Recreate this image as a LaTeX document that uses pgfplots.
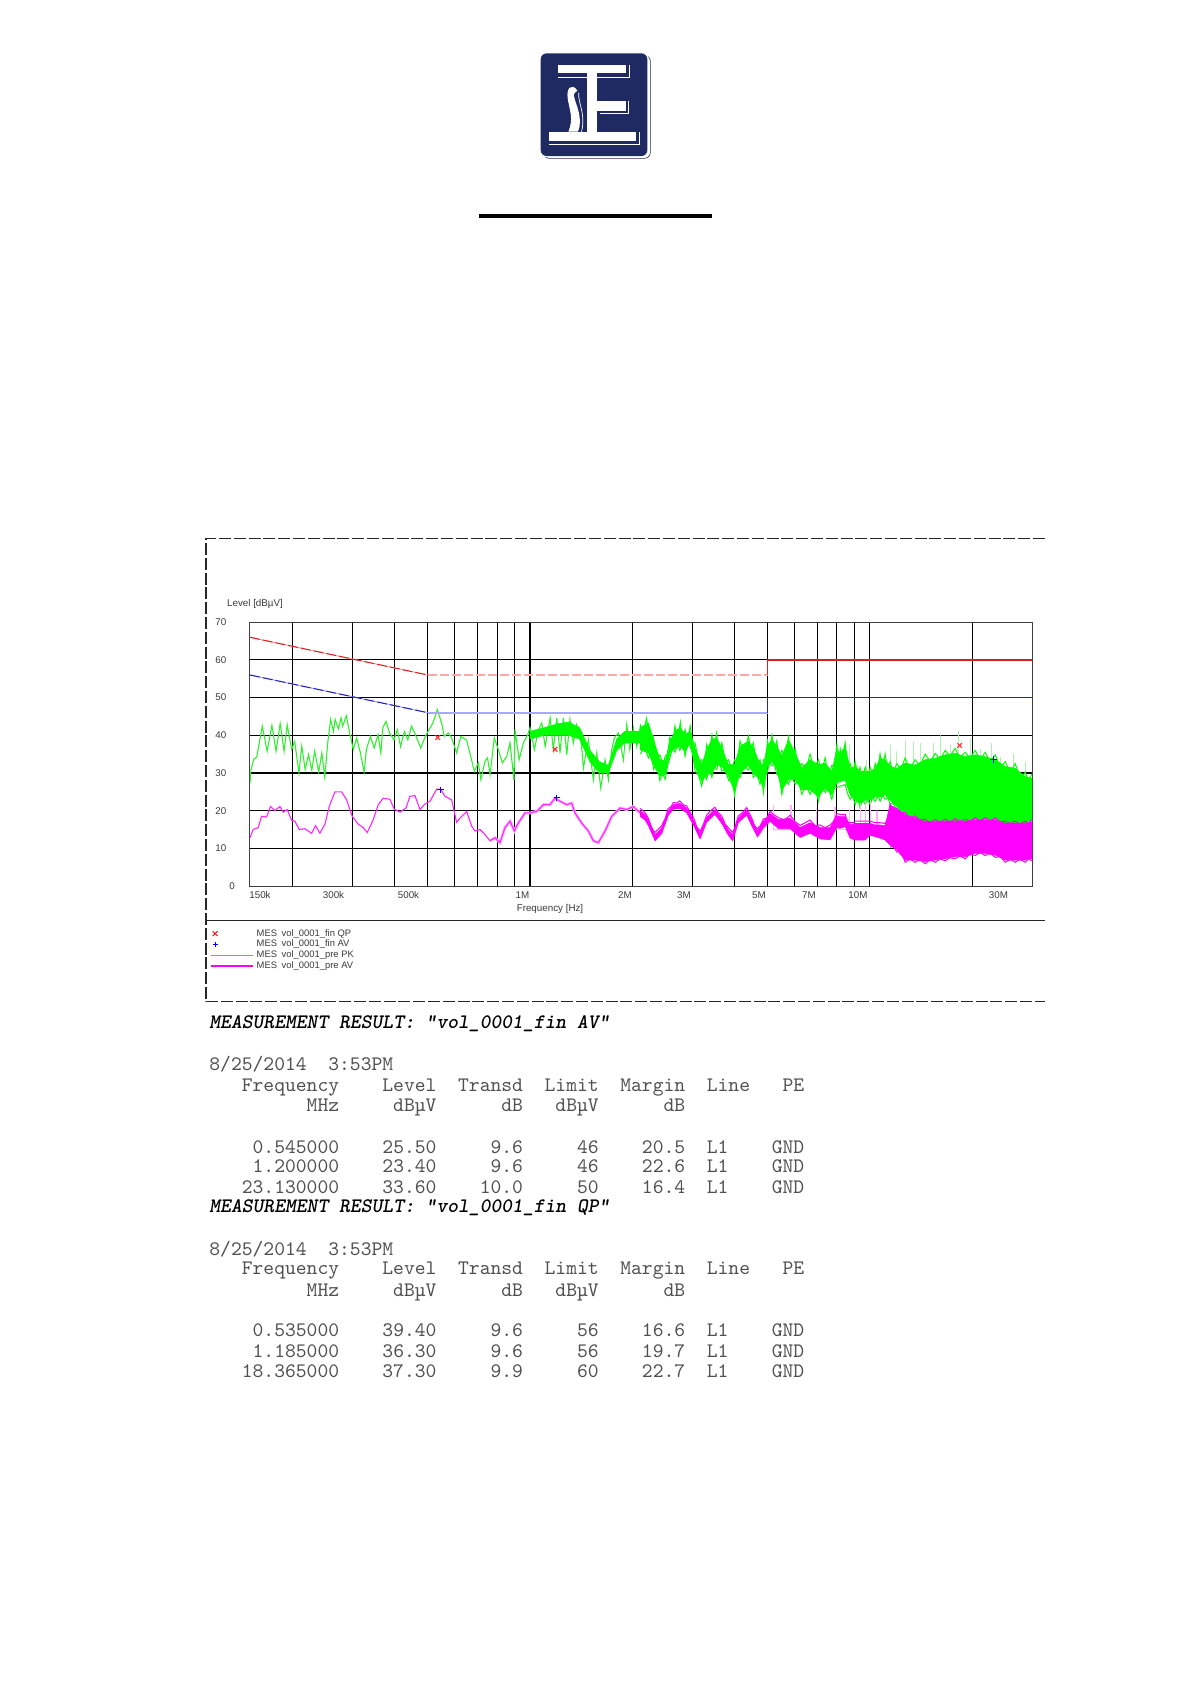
\documentclass[border=0pt]{standalone}
\usepackage{fontspec}
\setmainfont{Liberation Sans}
\usepackage{pgfplots}
\pgfplotsset{compat=1.18}
\definecolor{navy}{HTML}{1F2A63}
\definecolor{limred}{HTML}{D82020}
\definecolor{palered}{HTML}{FFA8A8}
\definecolor{limblue}{HTML}{2424B4}
\definecolor{paleblue}{HTML}{A8A8FF}
\definecolor{palegreen}{HTML}{B0F0B0}
\definecolor{palemag}{HTML}{FFB0FF}
\definecolor{tracegreen}{HTML}{30F030}
\definecolor{mag}{HTML}{FF00FF}
\definecolor{txt}{HTML}{3A3A3A}
\definecolor{tbl}{HTML}{505050}
\newcommand{\tl}[2]{\node[anchor=base west,inner sep=0pt,text=tbl,font=\ttfamily\fontsize{10.3pt}{12pt}\selectfont] at (209,#1) {#2};}
\newcommand{\hd}[2]{\node[anchor=base west,inner sep=0pt,text=black,font=\ttfamily\bfseries\itshape\fontsize{10.3pt}{12pt}\selectfont] at (209,#1) {#2};}
\newcommand{\xl}[2]{\node[inner sep=0pt,text=txt,font=\fontsize{4.9pt}{6pt}\selectfont] at (#1,895) {#2};}
\begin{document}
\begin{tikzpicture}
\path[use as bounding box] (0pt,0pt) rectangle (595.5pt,-841.5pt);
\begin{axis}[
  at={(125pt,-443pt)}, anchor=south west,
  scale only axis, width=391pt, height=131.9pt,
  xmode=log, xmin=0.15, xmax=30, ymin=0, ymax=70,
  xtick={0.2,0.3,0.4,0.5,0.6,0.7,0.8,0.9,1,2,3,4,5,6,7,8,9,10,20},
  xticklabels={}, minor tick num=0,
  ytick={10,20,30,40,50,60,70},
  yticklabels={10,20,30,40,50,60,70},
  yticklabel style={font=\fontsize{4.9pt}{6pt}\selectfont, text=txt, inner sep=0pt, xshift=-11.6pt},
  major tick length=0pt,
  grid=major, major grid style={black, line width=0.55pt},
  axis line style={draw=black!75, line width=0.5pt},
  legend cell align=left,
  legend style={at={(-0.051,-0.158)}, anchor=north west, draw=none, fill=none, inner sep=0pt,
    font=\fontsize{4.7pt}{6pt}\selectfont, text=txt, row sep=-0.1pt,
    nodes={inner sep=0pt, text height=4pt, text depth=1.5pt}},
  legend image code/.code={\draw[#1] (0pt,0pt) -- (21pt,0pt);},
]
\addlegendimage{only marks, mark=x, mark size=1.4pt, red, legend image code/.code={\draw[red, line width=0.4pt, xshift=2pt] (-1.2pt,-1.2pt)--(1.2pt,1.2pt) (-1.2pt,1.2pt)--(1.2pt,-1.2pt);}}
\addlegendentry{\hspace{1.5pt}MES\hspace{1pt} vol\_0001\_fin QP}
\addlegendimage{blue, legend image code/.code={\draw[blue, line width=0.4pt, xshift=2pt] (-1.3pt,0pt)--(1.3pt,0pt) (0pt,1.3pt)--(0pt,-1.3pt);}}
\addlegendentry{\hspace{1.5pt}MES\hspace{1pt} vol\_0001\_fin AV}
\addlegendimage{green, line width=0.6pt}
\addlegendentry{\hspace{1.5pt}MES\hspace{1pt} vol\_0001\_pre PK}
\addlegendimage{mag, line width=0.6pt}
\addlegendentry{\hspace{1.5pt}MES\hspace{1pt} vol\_0001\_pre AV}

% pale peaks above the dense part of the PK trace
\addplot[forget plot, palegreen, line width=0.6pt] coordinates {
(8.46,28.5)(8.46,37.9)(8.46,28.5)(8.69,28.5)(8.69,37.5)(8.69,28.5)(9.16,28.5)(9.16,32.1)(9.16,28.5)
(9.79,28.5)(9.79,33.5)(9.79,28.5)(10.68,28.5)(10.68,35.2)(10.68,28.5)(11.47,28.5)(11.47,37.5)(11.47,28.5)
(12.0,28.5)(12.0,35.7)(12.0,28.5)(12.7,28.5)(12.7,38.8)(12.7,28.5)(13.44,28.5)(13.44,38.4)(13.44,28.5)
(14.07,28.5)(14.07,37.9)(14.07,28.5)(15.37,28.5)(15.37,37.9)(15.37,28.5)(16.18,28.5)(16.18,40)(16.18,28.5)
(17.23,28.5)(17.23,37.5)(17.23,28.5)(18.23,28.5)(18.23,41.2)(18.23,28.5)(19.73,28.5)(19.73,39.2)(19.73,28.5)
(21.12,28.5)(21.12,36.5)(21.12,28.5)(22.86,28.5)(22.86,37.9)(22.86,28.5)(24.2,28.5)(24.2,34.3)(24.2,28.5)
(26.46,28.5)(26.46,35.2)(26.46,28.5)(28.65,28.5)(28.65,33)(28.65,28.5)};

% MES vol_0001_pre PK, below 2 MHz
\addplot[forget plot, tracegreen, line width=0.55pt] coordinates {
(.15,27.3)(.151,30.9)(.154,33.7)(.157,34.2)(.161,39.7)(.163,42.4)(.1685,35.8)(.174,42.6)(.179,35.8)(.184,43.1)
(.189,35.8)(.193,42.8)(.199,36.2)(.203,38.4)(.209,30)(.213,37.1)(.218,30.9)(.223,34.9)(.228,30.7)(.2325,35.8)
(.239,30.2)(.244,35.3)(.249,28.9)(.254,38)(.259,44.2)(.264,41)(.267,44.2)(.273,41.7)(.278,44.6)(.281,42.4)
(.288,45.2)(.2948,40.6)(.302,36.2)(.309,39.3)(.317,35.3)(.325,30.2)(.330,36.2)(.339,39.7)(.348,36.6)(.357,40.2)
(.364,35.3)(.369,42)(.377,43.7)(.386,40.6)(.398,38.8)(.407,41.5)(.416,37)(.427,41)(.437,38.8)(.448,42.4)
(.458,40.6)(.477,36.6)(.490,39.3)(.501,41)(.518,43.3)(.534,46.8)(.551,42.8)(.559,39.7)(.575,40.6)(.588,39.3)
(.608,35.3)(.626,39.7)(.651,38.7)(.673,33.5)(.686,30.4)(.705,32.7)(.717,28.2)(.737,33.1)(.75,34)(.763,29.6)
(.785,39.3)(.807,36.2)(.829,32.7)(.854,34.4)(.873,38)(.897,28.2)(.903,41.5)(.929,33.5)(.956,38)(.985,40.2)
(1.0,42)(1.03,36.2)(1.059,41.5)(1.083,43.3)(1.108,37)(1.146,44.6)(1.171,36.2)(1.199,44.6)(1.225,35.3)(1.253,44.6)
(1.283,34.9)(1.311,44.2)(1.341,37.9)(1.372,42.8)(1.413,38.8)(1.436,31.3)(1.485,38.8)(1.536,28.2)(1.572,35.3)(1.615,26)
(1.663,33.5)(1.701,28.2)(1.74,36.2)(1.771,39.3)(1.82,40.6)(1.882,33.5)(1.926,42.8)(1.967,36.2)(2.015,41.9)(2.061,37)
(2.107,41.9)(2.181,39.7)};
% dense core of the PK trace, 1 to 2 MHz
\addplot[forget plot, fill=green, draw=green, line width=0.3pt] coordinates {
(1.0,41)(1.1,42)(1.2,43)(1.3,43.5)(1.4,42)(1.5,36)(1.6,33)(1.7,32)(1.8,39)(1.9,41)(2.0,41)(2.11,41)
(2.11,38)(2.0,38)(1.9,38)(1.8,36)(1.7,30)(1.6,30)(1.5,33)(1.4,39)(1.3,40)(1.2,40)(1.1,40)(1.0,39)} --cycle;

% MES vol_0001_pre PK above 2 MHz: upper edge, then lower edge back
\addplot[forget plot, fill=green, draw=green, line width=0.3pt] coordinates {
(2.108,42)(2.231,43.3)(2.307,38.8)(2.414,33.5)(2.497,33.1)(2.583,38.4)(2.672,41.1)(2.764,42)(2.86,40.2)(2.958,41.1)
(3.06,36.6)(3.202,32.2)(3.312,36.2)(3.426,38.8)(3.544,39.3)(3.667,36.6)(3.837,32.2)(3.998,32.2)(4.154,37.1)(4.392,38.4)
(4.544,36.6)(4.755,32.2)(4.863,32.2)(4.997,37.1)(5.146,38.8)(5.324,37.1)(5.507,34.4)(5.761,38.8)(6.027,35.3)(6.307,31.3)
(6.672,33.5)(7.058,32.2)(7.387,32.6)(7.728,30.4)(7.996,36.2)(8.177,35.2)(8.459,37)(8.75,31.2)(9.052,31.7)(9.364,30.4)
(9.686,30.4)(10.02,30.4)(10.37,31.2)(10.72,33.9)(11.09,33.5)(11.47,31.7)(12.0,31.2)(12.7,32.6)(13.59,32.1)(14.55,33.5)
(15.57,33.9)(16.66,34.8)(17.83,35.2)(19.08,34.3)(20.42,34.8)(21.85,34.3)(23.38,33.5)(25.02,31.7)(26.77,31.2)(28.65,29)(30,28.6)
(30,17.5)(28.65,16.6)(26.77,16.6)(25.02,16.6)(23.38,17.5)(21.85,17.1)(20.42,17.5)(19.08,17.1)(17.83,17.1)(16.66,17.1)
(15.57,16.6)(14.55,17.1)(13.59,18)(12.7,18.9)(12.0,21.1)(11.47,22.8)(11.09,24.2)(10.72,23.7)(10.37,23.7)(10.02,22.8)
(9.686,22.8)(9.364,21.9)(9.052,22.8)(8.75,24.2)(8.459,28.1)(8.177,27.7)(7.996,27.3)(7.728,24.2)(7.387,26)(7.058,23.7)
(6.672,25.5)(6.307,25.5)(6.027,28.2)(5.761,28.2)(5.507,25.5)(5.324,31)(5.146,33.1)(4.997,31.7)(4.863,26)(4.755,28.2)
(4.544,30)(4.392,32)(4.154,30)(3.998,25.1)(3.837,29.1)(3.667,31.7)(3.544,32.2)(3.426,30)(3.312,29.5)(3.202,27.7)
(3.06,31.7)(2.958,38)(2.86,35.7)(2.764,37.1)(2.672,36.6)(2.583,35.3)(2.497,29.5)(2.414,29.1)(2.307,32.2)(2.231,35.3)(2.108,36.2)
} --cycle;
% jagged upper edge of the PK band
\addplot[forget plot, green, line width=0.5pt] coordinates {
(2.11,43)(2.15,39)(2.2,44.5)(2.25,40)(2.3,40)(2.34,36)(2.38,35)(2.42,34.5)(2.46,32)(2.5,34.5)(2.54,35)(2.58,39.5)
(2.63,37)(2.67,42.5)(2.72,39)(2.77,43.5)(2.81,39)(2.86,41.5)(2.91,38)(2.96,42.5)(3.01,38)(3.06,38)(3.13,33)(3.2,33.5)
(3.26,32)(3.31,37.5)(3.37,35)(3.43,40)(3.48,36)(3.54,40.5)(3.6,35)(3.67,38)(3.75,33)(3.84,33.5)(3.92,31)(4,33.5)
(4.08,33)(4.15,38.5)(4.27,35)(4.39,39.8)(4.47,36)(4.54,38)(4.65,32)(4.75,33.5)(4.81,30)(4.86,33.5)(4.93,33)(5,38.5)
(5.07,36)(5.15,40)(5.23,36)(5.32,38.5)(5.41,34)(5.51,36)(5.63,34)(5.76,39.5)(5.88,34)(6.03,36.5)(6.16,31)(6.31,32.5)
(6.49,31)(6.67,35)(6.86,31)(7.06,33.5)(7.22,30.5)(7.39,34)(7.55,29)(7.73,32)(7.86,32)(8,37.5)(8.08,33)(8.18,36.5)
(8.3,34)(8.46,38)(8.6,31)(8.75,32.5)(8.9,30)(9.05,33)(9.2,29)(9.36,31.5)(9.52,29)(9.69,31.5)(9.85,29)(10.02,31.5)
(10.2,29.5)(10.37,32.5)(10.55,30)(10.72,35)(10.9,31)(11.09,35)(11.3,30)(11.47,33)(11.7,30)(12,32.5)(12.35,31)(12.7,34)
(13.1,31)(13.59,33.5)(14.05,32)(14.55,35)(15.05,33)(15.57,35.2)(16.1,33.5)(16.66,36)(17.2,34.5)(17.83,36.5)(18.4,34)
(19.08,35.5)(19.7,34)(20.42,36)(21.1,33.5)(21.85,35.5)(22.6,33)(23.38,34.8)(24.2,31.5)(25.02,33)(25.9,30)(26.77,32.5)
(27.7,28.5)(28.65,30.2)(29.3,28)(30,29.8)};
% jagged lower edge of the PK band
\addplot[forget plot, green, line width=0.5pt] coordinates {
(2.11,35)(2.17,37)(2.23,34)(2.27,36)(2.31,31)(2.36,33)(2.41,28)(2.45,30)(2.5,28.3)(2.54,32)(2.58,34)(2.63,37)(2.67,35.5)
(2.72,37.5)(2.76,36)(2.81,38)(2.86,34.5)(2.91,38)(2.96,37)(3.01,35)(3.06,30.5)(3.13,29.5)(3.2,26.5)(3.26,30)(3.31,28.3)
(3.37,31.5)(3.43,28.8)(3.48,32)(3.54,31)(3.6,33)(3.67,30.5)(3.75,31)(3.84,28)(3.92,29)(4,24)(4.08,29.5)(4.15,28.8)
(4.27,32)(4.39,30.8)(4.47,32)(4.54,28.8)(4.65,30)(4.75,27)(4.81,29)(4.86,24.8)(4.93,29)(5,30.5)(5.07,33)(5.15,31.9)
(5.23,32.5)(5.32,29.8)(5.41,29)(5.51,24.3)(5.63,28.5)(5.76,27)(5.88,29)(6.03,27)(6.16,28)(6.31,24.3)(6.49,27)(6.67,24.3)
(6.86,27)(7.06,22.5)(7.22,27)(7.39,24.8)(7.55,26)(7.73,23)(7.86,26)(8,26.1)(8.18,26.5)(8.46,26.9)(8.6,24.5)(8.75,23)
(8.9,24)(9.05,21.6)(9.2,23.5)(9.36,20.7)(9.52,23)(9.69,21.6)(9.85,23)(10.02,21.6)(10.2,23.5)(10.37,22.5)(10.55,24)
(10.72,22.5)(10.9,24)(11.09,23)(11.3,23.5)(11.47,21.6)(11.7,22)(12,19.9)};

% pale peaks above the AV trace
\addplot[forget plot, palemag, line width=0.6pt] coordinates {
(5.2,15)(5.2,21.5)(5.2,15)(5.86,15)(5.86,21.5)(5.86,15)(6.98,15)(6.98,20.5)(6.98,15)(7.9,15)(7.9,21)(7.9,15)
(8.69,15)(8.69,20.5)(8.69,15)(9.36,15)(9.36,21.9)(9.36,15)(9.69,15)(9.69,21.9)(9.69,15)(10.02,15)(10.02,22.4)(10.02,15)(10.49,15)(10.49,20)(10.49,15)};

% pale halo round the AV trace, 0.8 to 2 MHz
\addplot[forget plot, palemag, line width=1.4pt] coordinates {
(.7626,12)(.7888,12.8)(.816,11.5)(.8441,15.5)(.8733,17.2)(.8993,14.6)(.9239,16.7)(.9665,19.4)(1.0,19.4)(1.046,19.8)(1.095,21.6)
(1.145,21.6)(1.184,23.3)(1.225,22.5)(1.282,21.6)(1.326,22)(1.356,19.4)(1.419,16.7)(1.485,14.6)(1.536,12)(1.589,11.5)
(1.663,14.6)(1.74,18.5)(1.84,20.7)(1.926,20.3)(2.014,21.1)(2.107,19.4)};
% MES vol_0001_pre AV, below 2 MHz
\addplot[forget plot, mag!85!white, line width=0.55pt] coordinates {
(.15,12.8)(.1533,15)(.1586,15.5)(.1622,18.5)(.1678,18.3)(.1724,21.1)(.1776,20)(.1837,21.1)(.1879,19.6)(.193,20.3)
(.1988,17.5)(.2033,17.2)(.2094,15)(.2176,15.2)(.2277,14)(.2339,16)(.2409,14)(.2492,16.4)(.2566,21.1)(.2667,25)
(.279,25)(.2886,22.9)(.2999,18.5)(.3124,16.4)(.3231,15.5)(.332,14.2)(.3458,17.6)(.3577,21.6)(.37,23.3)(.3871,23)
(.3987,20.4)(.4143,19.6)(.4315,20.7)(.4433,23.8)(.4586,24)(.4744,20.3)(.4908,21.8)(.5077,22.5)(.5312,25.7)(.5458,25.7)
(.5621,23.8)(.588,22.9)(.6083,16.9)(.6222,18)(.651,19.8)(.6734,15.9)(.6888,14.6)(.7126,15)(.7369,13.7)(.7626,12)
(.7888,12.8)(.816,11.5)(.8441,15.5)(.8733,17.2)(.8993,14.6)(.9239,16.7)(.9665,19.4)(1.0,19.4)(1.046,19.8)(1.095,21.6)
(1.145,21.6)(1.184,23.3)(1.225,22.5)(1.282,21.6)(1.326,22)(1.356,19.4)(1.419,16.7)(1.485,14.6)(1.536,12)(1.589,11.5)
(1.663,14.6)(1.74,18.5)(1.84,20.7)(1.926,20.3)(2.014,21.1)(2.107,19.4)};

% MES vol_0001_pre AV above 2 MHz: upper edge, then lower edge back
\addplot[forget plot, fill=mag, draw=mag, line width=0.3pt] coordinates {
(2.108,19.9)(2.181,19)(2.231,17.5)(2.334,13.6)(2.441,15.4)(2.554,20)(2.642,21.6)(2.764,21.9)(2.892,20.7)(3.026,17.5)
(3.166,14)(3.312,18.2)(3.503,20.3)(3.667,17.9)(3.837,14.8)(3.95,13.6)(4.1,18)(4.338,20.2)(4.494,17.5)(4.67,14.6)
(4.863,17.2)(5.088,19.2)(5.384,17.6)(5.827,18)(6.235,15.5)(6.672,16.8)(7.14,15.5)(7.64,15.5)(7.996,18.6)(8.177,18.4)
(8.459,18.4)(8.75,16.2)(9.052,16.6)(9.364,16.6)(9.686,16.6)(10.02,16.6)(10.37,16.2)(10.72,16.2)(11.09,16)(11.47,21.5)
(12.0,20.5)(12.7,18.9)(13.59,18)(14.55,17.1)(15.57,17.1)(16.66,17.1)(17.83,17.3)(19.08,17.1)(20.42,17.5)(21.85,17.5)
(23.38,17.5)(25.02,16.6)(26.77,16.6)(28.65,16.6)(30,17)
(30,7.3)(28.65,6.9)(26.77,6.9)(25.02,6.9)(23.38,8.2)(21.85,8.7)(20.42,8.7)(19.08,7.8)(17.83,7.8)(16.66,7.3)
(15.57,6.9)(14.55,6.5)(13.59,6.9)(12.7,6.9)(12.0,9.6)(11.47,10.9)(11.09,12.2)(10.72,12.7)(10.37,13.1)(10.02,13.5)
(9.686,12.2)(9.364,12.2)(9.052,12.2)(8.75,12.7)(8.459,15.8)(8.177,15.3)(7.996,15.5)(7.64,12.3)(7.14,12.5)(6.672,14)
(6.235,12.9)(5.827,15.2)(5.384,15.2)(5.088,17.2)(4.863,15.4)(4.67,13)(4.494,16)(4.338,18.8)(4.1,16.8)(3.95,12)
(3.837,13.4)(3.667,16.6)(3.503,19)(3.312,17)(3.166,12.5)(3.026,16.2)(2.892,19.4)(2.764,20.6)(2.642,20.4)(2.554,18.8)
(2.441,13.9)(2.334,12)(2.231,16)(2.181,17.5)(2.108,18.5)
} --cycle;
% jagged upper edge of the AV band
\addplot[forget plot, mag, line width=0.5pt] coordinates {
(2.11,20.6)(2.18,19.5)(2.23,18)(2.28,15.5)(2.33,14.2)(2.38,15)(2.44,16)(2.5,18)(2.55,20.6)(2.6,21)(2.64,22.2)(2.7,22)(2.76,22.6)
(2.83,21.5)(2.89,21.3)(2.96,19.5)(3.03,18.1)(3.1,15.5)(3.17,14.6)(3.24,16.5)(3.31,18.8)(3.4,20)(3.5,20.9)(3.58,19.5)(3.67,18.5)
(3.75,16.5)(3.84,15.4)(3.95,14.2)(4.02,16)(4.1,18.6)(4.22,19.5)(4.34,20.8)(4.41,19.5)(4.49,18.1)(4.58,16)(4.67,15.2)(4.76,16)
(4.86,17.8)(4.97,18)(5.09,19.8)(5.2,19)(5.38,18.2)(5.6,17.5)(5.83,18.8)(6.03,17)(6.24,16.1)(6.45,16.8)(6.67,17.5)(6.9,16)
(7.14,16.2)(7.38,15.5)(7.64,16.2)(7.8,17)(8,19.2)(8.18,19)(8.46,19)(8.6,17)(8.75,16.8)(8.9,16.8)(9.05,17.2)(9.36,17.2)(9.69,17.2)
(10.02,17.2)(10.37,16.8)(10.72,16.8)(11.09,16.6)(11.3,18)(11.47,21.8)(11.7,20)(12,20.7)(12.35,19.5)(12.7,19.5)(13.1,18)(13.59,18.6)
(14.05,17.5)(14.55,17.7)(15.05,16.8)(15.57,17.7)(16.1,17)(16.66,17.7)(17.2,17)(17.83,17.9)(18.4,17.2)(19.08,17.7)(19.7,17.2)
(20.42,18.1)(21.1,17.3)(21.85,18.1)(22.6,17.3)(23.38,18.1)(24.2,17)(25.02,17.2)(25.9,16.6)(26.77,17.2)(27.7,16.5)(28.65,17.2)
(29.3,16.6)(30,17.6)};
% jagged lower edge of the AV band above 11 MHz
\addplot[forget plot, mag, line width=0.5pt] coordinates {
(11.47,10.3)(11.7,10.8)(12,9)(12.35,9.5)(12.7,6.3)(13.1,7.2)(13.59,6.3)(14.05,7)(14.55,5.9)(15.05,7)(15.57,6.3)(16.1,7.2)(16.66,6.7)
(17.2,7.5)(17.83,7.2)(18.4,8)(19.08,7.2)(19.7,8.5)(20.42,8.1)(21.1,8.9)(21.85,8.1)(22.6,8.7)(23.38,7.6)(24.2,7.8)(25.02,6.3)(25.9,7.1)
(26.77,6.3)(27.7,7.1)(28.65,6.3)(29.3,7.2)(30,6.7)};

% limit lines
\addplot[forget plot, palered, line width=0.5pt] coordinates {(0.15,66)(0.5,56)};
\addplot[forget plot, limred, line width=0.5pt, dash pattern=on 5pt off 1.5pt] coordinates {(0.15,66)(0.5,56)};
\addplot[forget plot, palered, line width=0.9pt, dash pattern=on 4.5pt off 1.5pt] coordinates {(0.5,56)(5,56)};
\addplot[forget plot, limred, line width=0.8pt] coordinates {(5,56)(5,60)(30,60)};
\addplot[forget plot, paleblue, line width=0.5pt] coordinates {(0.15,56)(0.5,46)};
\addplot[forget plot, limblue, line width=0.5pt, dash pattern=on 5pt off 1.5pt] coordinates {(0.15,56)(0.5,46)};
\addplot[forget plot, paleblue, line width=0.9pt] coordinates {(0.5,46)(5,46)};
\addplot[forget plot, limblue, line width=0.8pt] coordinates {(5,46)(5,50)(30,50)};

% final measurements
\addplot[forget plot, only marks, mark=x, mark size=1.6pt, mark options={red!80!white, line width=0.6pt}] coordinates {(0.535,39.4)(1.185,36.3)(18.365,37.3)};
\addplot[forget plot, only marks, mark=+, mark size=1.6pt, mark options={blue, line width=0.5pt}] coordinates {(0.545,25.5)(1.2,23.4)(23.13,33.6)};
\end{axis}

\begin{scope}[x=0.5pt,y=-0.5pt]
% logo
\begin{scope}[shift={(500,30)},x=0.1667pt,y=-0.1667pt]
\draw[navy, line width=0.3pt, rounded corners=3pt] (130,76) rectangle (451,385);
\fill[white, rounded corners=3pt] (122,70) rectangle (446,381);
\fill[navy, rounded corners=3pt] (122,70) rectangle (442,378);
\fill[white] (175,105) rectangle (378,130);
\fill[white] (262,130) rectangle (292,305);
\fill[white] (292,213) rectangle (378,243);
\fill[white] (147,305) rectangle (408,333);
\fill[white] (232,182) .. controls (218,160) and (198,170) .. (203,205) .. controls (208,240) and (222,265) .. (205,305) -- (234,305) .. controls (250,265) and (228,225) .. (222,200) .. controls (220,190) and (226,186) .. (232,182) -- cycle;
\draw[white, line width=0.35pt] (175,142) -- (262,142) (292,142) -- (388,142) -- (388,105);
\draw[white, line width=0.35pt] (300,250) -- (385,250) -- (385,213);
\draw[white, line width=0.35pt] (147,343) -- (417,343) -- (417,305);
\draw[white, line width=0.35pt] (236,188) .. controls (232,220) and (266,260) .. (236,332);
\end{scope}
\fill[black] (478.5,214) rectangle (711.5,217.5);

% plot frame
\draw[black!85, line width=0.55pt, dash pattern=on 6pt off 1.4pt] (1045,538.3) -- (206,538.3) -- (206,1001.7) -- (1045,1001.7);
\draw[black!85, line width=0.5pt] (206,920) -- (1045,920);

% axis texts
\node[inner sep=0pt,text=txt,font=\fontsize{4.9pt}{6pt}\selectfont] at (255,604) {Level [dBµV]};
\node[inner sep=0pt,text=txt,font=\fontsize{4.9pt}{6pt}\selectfont] at (550,909.3) {Frequency [Hz]};
\node[inner sep=0pt,text=txt,font=\fontsize{4.9pt}{6pt}\selectfont] at (232,886.5) {0};
\xl{260}{150k}\xl{333.5}{300k}\xl{408.5}{500k}\xl{522.5}{1M}\xl{625}{2M}\xl{684}{3M}\xl{759}{5M}\xl{809}{7M}\xl{858}{10M}\xl{998.5}{30M}

% measurement tables
\hd{1028}{MEASUREMENT RESULT: "vol\_0001\_fin AV"}
\tl{1070.5}{8/25/2014~~3:53PM}
\tl{1091.5}{~~~Frequency~~~~Level~~Transd~~Limit~~Margin~~Line~~~PE}
\tl{1111.5}{~~~~~~~~~MHz~~~~~dBµV~~~~~~dB~~~dBµV~~~~~~dB}
\tl{1153}{~~~~0.545000~~~~25.50~~~~~9.6~~~~~46~~~~20.5~~L1~~~~GND}
\tl{1172}{~~~~1.200000~~~~23.40~~~~~9.6~~~~~46~~~~22.6~~L1~~~~GND}
\tl{1193.5}{~~~23.130000~~~~33.60~~~~10.0~~~~~50~~~~16.4~~L1~~~~GND}
\hd{1212}{MEASUREMENT RESULT: "vol\_0001\_fin QP"}
\tl{1255.5}{8/25/2014~~3:53PM}
\tl{1274.5}{~~~Frequency~~~~Level~~Transd~~Limit~~Margin~~Line~~~PE}
\tl{1296}{~~~~~~~~~MHz~~~~~dBµV~~~~~~dB~~~dBµV~~~~~~dB}
\tl{1336.5}{~~~~0.535000~~~~39.40~~~~~9.6~~~~~56~~~~16.6~~L1~~~~GND}
\tl{1357}{~~~~1.185000~~~~36.30~~~~~9.6~~~~~56~~~~19.7~~L1~~~~GND}
\tl{1377}{~~~18.365000~~~~37.30~~~~~9.9~~~~~60~~~~22.7~~L1~~~~GND}
\end{scope}
\end{tikzpicture}
\end{document}
